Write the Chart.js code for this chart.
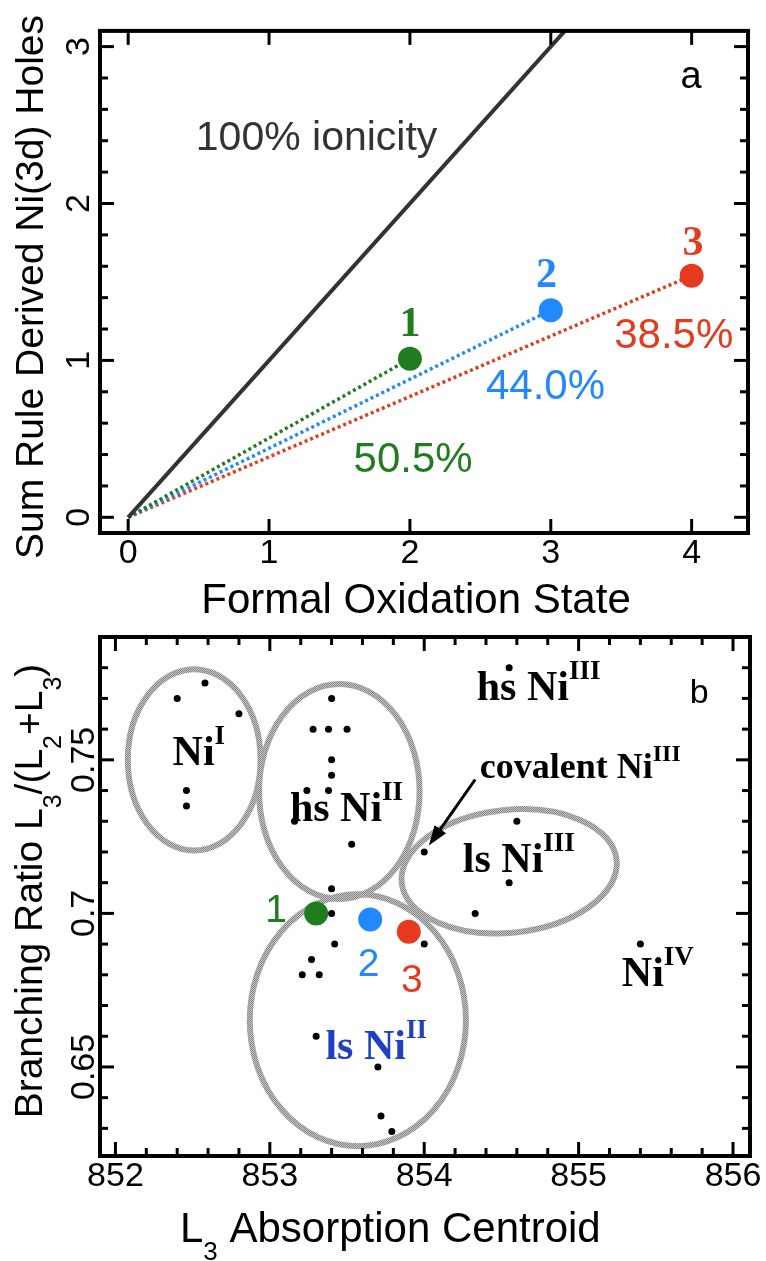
<!DOCTYPE html>
<html>
<head>
<meta charset="utf-8">
<script src="https://cdn.jsdelivr.net/npm/chart.js@4.4.1/dist/chart.umd.min.js"></script>
<style>
  body { margin: 0; background: #fff; }
  #wrap { position: relative; width: 766px; height: 1261px; }
  canvas { position: absolute; left: 0; }
</style>
</head>
<body>
<div id="wrap">
  <canvas id="chartA" width="766" height="620" style="top:0px"></canvas>
  <canvas id="chartB" width="766" height="641" style="top:620px"></canvas>
</div>
<script>
// ---- panel a : holes vs formal oxidation state ----
var oxState = [2, 3, 4];
var holes = [1.01, 1.32, 1.54];
var sampleNames = ['1', '2', '3'];
var ionicity = ['50.5%', '44.0%', '38.5%'];
var sampleColors = ['#1f7d1f', '#2288ff', '#e63a1f'];
var ionicLineX = [0, 3.2];          // 100% ionicity: holes = oxidation state
var xTicksA = [0, 1, 2, 3, 4];
var yTicksA = [0, 1, 2, 3];

// ---- panel b : branching ratio vs L3 centroid ----
var refX = [852.40, 852.58, 852.80, 852.46, 852.46,
            853.40, 853.28, 853.38, 853.50, 853.40, 853.40, 853.24, 853.38, 853.16, 853.53, 853.40,
            854.55, 854.00, 854.60, 854.55, 854.33,
            853.40, 853.42, 853.27, 853.21, 853.32, 854.00, 853.30, 853.70, 853.72, 853.79,
            855.40];
var refY = [0.770, 0.775, 0.765, 0.740, 0.735,
            0.770, 0.760, 0.760, 0.760, 0.750, 0.745, 0.740, 0.740, 0.730, 0.7225, 0.708,
            0.780, 0.720, 0.730, 0.710, 0.700,
            0.700, 0.690, 0.685, 0.680, 0.680, 0.690, 0.660, 0.650, 0.634, 0.629,
            0.690];
var sampleL3 = [853.30, 853.65, 853.90];
var sampleBR = [0.700, 0.698, 0.694];
var xTicksB = [852, 853, 854, 855, 856];
var yTicksB = [0.65, 0.7, 0.75];
var yTickLabelsB = ['0.65', '0.7', '0.75'];

// region ellipses: centre and semi axes in data units
var regionNames = ['Ni', 'hs Ni', 'ls Ni', 'ls Ni', 'hs Ni', 'covalent Ni', 'Ni'];
var regionSup = ['I', 'II', 'III', 'II', 'III', 'III', 'IV'];
var ellipses = [
  { x: 852.51, y: 0.7500, rx: 0.43, ry: 0.0295, rot: 0 },
  { x: 853.45, y: 0.7397, rx: 0.52, ry: 0.0350, rot: 0 },
  { x: 854.55, y: 0.7137, rx: 0.70, ry: 0.0200, rot: -6 },
  { x: 853.57, y: 0.6652, rx: 0.70, ry: 0.0410, rot: 0 }
];

var SANS = "'Liberation Sans', Arial, sans-serif";
var SERIF = "'Liberation Serif', 'Times New Roman', serif";
Chart.defaults.font.family = SANS;
Chart.defaults.color = '#000';

function pts(xs, ys) {
  return xs.map(function (x, i) { return { x: x, y: ys[i] }; });
}
function steps(from, to, step, skip) {
  var out = [];
  for (var v = from; v <= to + 1e-9; v += step) {
    var r = Math.round(v * 1000) / 1000;
    if (skip.indexOf(r) < 0) out.push(r);
  }
  return out;
}

function drawRich(ctx, runs, x, y, align) {
  var w = 0;
  runs.forEach(function (r) { ctx.font = r.font; w += ctx.measureText(r.t).width; });
  var cx = align === 'center' ? x - w / 2 : x;
  runs.forEach(function (r) {
    ctx.font = r.font;
    ctx.fillStyle = r.color || '#000';
    ctx.fillText(r.t, cx, y + (r.dy || 0));
    cx += ctx.measureText(r.t).width;
  });
}

// inward ticks on all four sides plus the frame
function frameTicks(chart, o) {
  var ctx = chart.ctx, a = chart.chartArea;
  var sx = chart.scales.x, sy = chart.scales.y;
  ctx.save();
  ctx.strokeStyle = '#000';
  ctx.lineWidth = 3;
  function seg(x1, y1, x2, y2) { ctx.beginPath(); ctx.moveTo(x1, y1); ctx.lineTo(x2, y2); ctx.stroke(); }
  function xt(vals, len) {
    vals.forEach(function (v) {
      var p = sx.getPixelForValue(v);
      seg(p, a.bottom, p, a.bottom - len);
      seg(p, a.top, p, a.top + len);
    });
  }
  function yt(vals, len) {
    vals.forEach(function (v) {
      var p = sy.getPixelForValue(v);
      seg(a.left, p, a.left + len, p);
      seg(a.right, p, a.right - len, p);
    });
  }
  xt(o.xMajor, 14); xt(o.xMinor, 8);
  yt(o.yMajor, 14); yt(o.yMinor, 8);
  ctx.lineWidth = 4;
  ctx.strokeRect(a.left, a.top, a.right - a.left, a.bottom - a.top);
  ctx.restore();
}

function axisOpts(min, max, ticks, labels, extra) {
  var o = {
    type: 'linear', min: min, max: max,
    grid: { display: false, drawTicks: false },
    border: { display: false },
    afterBuildTicks: function (s) { s.ticks = ticks.map(function (v) { return { value: v }; }); },
    ticks: {
      autoSkip: false, padding: 0, color: '#000',
      font: { size: 34, family: SANS },
      callback: function (v, i) { return labels ? labels[i] : String(v); }
    }
  };
  for (var k in extra) o[k] = extra[k];
  return o;
}

// ---------------- chart a ----------------
var dsA = [{
  data: pts(ionicLineX, ionicLineX),
  showLine: true, borderColor: '#333', borderWidth: 4, pointRadius: 0
}];
oxState.forEach(function (x, i) {
  dsA.push({
    data: pts([0, x], [0, holes[i]]),
    showLine: true, borderColor: sampleColors[i], borderWidth: 3.5,
    borderDash: [3, 3], pointRadius: 0
  });
});
dsA.push({
  data: pts(oxState, holes),
  pointRadius: 12, pointBackgroundColor: sampleColors, pointBorderWidth: 0
});

var yAxA = axisOpts(-0.1, 3.1, yTicksA, null, {
  afterFit: function (s) { s.width = 100; }
});
yAxA.ticks.minRotation = 90; yAxA.ticks.maxRotation = 90;
yAxA.ticks.crossAlign = 'center'; yAxA.ticks.padding = 10.5;

var panelA = {
  id: 'panelA',
  afterDatasetsDraw: function (chart) {
    var ctx = chart.ctx, sx = chart.scales.x, sy = chart.scales.y;
    ctx.save();
    ctx.textBaseline = 'alphabetic';
    var numPos = [[2.0, 1.156], [2.97, 1.466], [4.01, 1.67]];
    var pctPos = [[1.60, 0.29], [2.54, 0.754], [3.45, 1.082]];
    sampleNames.forEach(function (n, i) {
      drawRich(ctx, [{ t: n, font: 'bold 42px ' + SERIF, color: sampleColors[i] }],
        sx.getPixelForValue(numPos[i][0]), sy.getPixelForValue(numPos[i][1]), 'center');
      drawRich(ctx, [{ t: ionicity[i], font: '42px ' + SANS, color: sampleColors[i] }],
        sx.getPixelForValue(pctPos[i][0]), sy.getPixelForValue(pctPos[i][1]), 'left');
    });
    drawRich(ctx, [{ t: '100% ionicity', font: '41px ' + SANS, color: '#333' }],
      sx.getPixelForValue(0.48), sy.getPixelForValue(2.344), 'left');
    drawRich(ctx, [{ t: 'a', font: '38px ' + SANS }],
      sx.getPixelForValue(3.92), sy.getPixelForValue(2.733), 'left');
    ctx.restore();
  },
  afterDraw: function (chart) {
    frameTicks(chart, {
      xMajor: xTicksA, xMinor: [],
      yMajor: yTicksA, yMinor: steps(0, 3, 0.2, yTicksA)
    });
    var ctx = chart.ctx;
    ctx.save();
    drawRich(ctx, [{ t: 'Formal Oxidation State', font: '42px ' + SANS }], 416, 613, 'center');
    ctx.translate(43, 287);
    ctx.rotate(-Math.PI / 2);
    drawRich(ctx, [{ t: 'Sum Rule Derived Ni(3d) Holes', font: '39px ' + SANS }], 0, 0, 'center');
    ctx.restore();
  }
};

new Chart(document.getElementById('chartA'), {
  type: 'scatter',
  data: { datasets: dsA },
  options: {
    responsive: false, animation: false,
    layout: { padding: { left: 0, top: 14, right: 18, bottom: 0 } },
    plugins: { legend: { display: false }, tooltip: { enabled: false } },
    scales: {
      x: axisOpts(-0.2, 4.4, xTicksA, null, { afterFit: function (s) { s.height = 87; } }),
      y: yAxA
    }
  },
  plugins: [panelA]
});

// ---------------- chart b ----------------
var pat = document.createElement('canvas');
pat.width = 2; pat.height = 2;
var pctx = pat.getContext('2d');
pctx.fillStyle = '#c6c6c6'; pctx.fillRect(0, 0, 2, 2);
pctx.fillStyle = '#858585'; pctx.fillRect(0, 0, 1, 1); pctx.fillRect(1, 1, 1, 1);

var yAxB = axisOpts(0.621, 0.79, yTicksB, yTickLabelsB, {
  afterFit: function (s) { s.width = 100; }
});
yAxB.ticks.minRotation = 90; yAxB.ticks.maxRotation = 90;
yAxB.ticks.crossAlign = 'center'; yAxB.ticks.padding = -18;

var panelB = {
  id: 'panelB',
  beforeDatasetsDraw: function (chart) {
    var ctx = chart.ctx, sx = chart.scales.x, sy = chart.scales.y;
    ctx.save();
    ctx.strokeStyle = ctx.createPattern(pat, 'repeat');
    ctx.lineWidth = 6;
    ellipses.forEach(function (e) {
      var cx = sx.getPixelForValue(e.x), cy = sy.getPixelForValue(e.y);
      var rx = Math.abs(sx.getPixelForValue(e.x + e.rx) - cx);
      var ry = Math.abs(sy.getPixelForValue(e.y + e.ry) - cy);
      ctx.beginPath();
      ctx.ellipse(cx, cy, rx, ry, e.rot * Math.PI / 180, 0, 2 * Math.PI);
      ctx.stroke();
    });
    ctx.restore();
  },
  afterDatasetsDraw: function (chart) {
    var ctx = chart.ctx, sx = chart.scales.x, sy = chart.scales.y;
    ctx.save();
    ctx.textBaseline = 'alphabetic';
    var labPos = [[852.37, 0.7484], [853.13, 0.730], [854.25, 0.7134], [853.36, 0.6527],
                  [854.34, 0.7695], [854.36, 0.7442], [855.28, 0.6764]];
    regionNames.forEach(function (n, i) {
      var small = n.indexOf('covalent') === 0;
      var col = i === 3 ? '#1f3fc4' : '#000';
      drawRich(ctx, [
        { t: n, font: 'bold ' + (small ? 36 : 42) + 'px ' + SERIF, color: col },
        { t: regionSup[i], font: 'bold ' + (small ? 24 : 27) + 'px ' + SERIF, color: col, dy: small ? -17 : -21 }
      ], sx.getPixelForValue(labPos[i][0]), sy.getPixelForValue(labPos[i][1]), 'left');
    });
    var numPos = [[853.04, 0.6971], [853.64, 0.6796], [853.92, 0.6744]];
    sampleNames.forEach(function (n, i) {
      drawRich(ctx, [{ t: n, font: '39px ' + SANS, color: sampleColors[i] }],
        sx.getPixelForValue(numPos[i][0]), sy.getPixelForValue(numPos[i][1]), 'center');
    });
    drawRich(ctx, [{ t: 'b', font: '34px ' + SANS }],
      sx.getPixelForValue(855.72), sy.getPixelForValue(0.7686), 'left');

    // arrow to the covalent Ni(III) point
    var x1 = sx.getPixelForValue(854.33), y1 = sy.getPixelForValue(0.7436);
    var x2 = sx.getPixelForValue(854.03), y2 = sy.getPixelForValue(0.7221);
    var ang = Math.atan2(y2 - y1, x2 - x1);
    ctx.strokeStyle = '#000'; ctx.fillStyle = '#000'; ctx.lineWidth = 3;
    ctx.beginPath();
    ctx.moveTo(x1, y1);
    ctx.lineTo(x2 - 14 * Math.cos(ang), y2 - 14 * Math.sin(ang));
    ctx.stroke();
    ctx.beginPath();
    ctx.moveTo(x2, y2);
    ctx.lineTo(x2 - 20 * Math.cos(ang) + 7 * Math.sin(ang), y2 - 20 * Math.sin(ang) - 7 * Math.cos(ang));
    ctx.lineTo(x2 - 20 * Math.cos(ang) - 7 * Math.sin(ang), y2 - 20 * Math.sin(ang) + 7 * Math.cos(ang));
    ctx.closePath();
    ctx.fill();
    ctx.restore();
  },
  afterDraw: function (chart) {
    frameTicks(chart, {
      xMajor: xTicksB, xMinor: steps(852, 856, 0.2, xTicksB),
      yMajor: yTicksB, yMinor: steps(0.63, 0.79, 0.01, yTicksB)
    });
    var ctx = chart.ctx;
    ctx.save();
    drawRich(ctx, [
      { t: 'L', font: '42px ' + SANS },
      { t: '3', font: '26px ' + SANS, dy: 18 },
      { t: ' Absorption Centroid', font: '42px ' + SANS }
    ], 180, 622, 'left');
    ctx.translate(42, 271);
    ctx.rotate(-Math.PI / 2);
    var sub = '25px ' + SANS, main = '39px ' + SANS;
    drawRich(ctx, [
      { t: 'Branching Ratio L', font: main },
      { t: '3', font: sub, dy: 19 },
      { t: '/(L', font: main },
      { t: '2', font: sub, dy: 19 },
      { t: '+L', font: main },
      { t: '3', font: sub, dy: 19 },
      { t: ')', font: main }
    ], 0, 0, 'center');
    ctx.restore();
  }
};

new Chart(document.getElementById('chartB'), {
  type: 'scatter',
  data: {
    datasets: [
      { data: pts(refX, refY), pointRadius: 3.5, pointBackgroundColor: '#000', pointBorderWidth: 0 },
      { data: pts(sampleL3, sampleBR), pointRadius: 12, pointBackgroundColor: sampleColors, pointBorderWidth: 0 }
    ]
  },
  options: {
    responsive: false, animation: false,
    layout: { padding: { left: 0, top: 17, right: 16, bottom: 0 } },
    plugins: { legend: { display: false }, tooltip: { enabled: false } },
    scales: {
      x: axisOpts(851.9, 856.11, xTicksB, null, { afterFit: function (s) { s.height = 105; } }),
      y: yAxB
    }
  },
  plugins: [panelB]
});
</script>
</body>
</html>
